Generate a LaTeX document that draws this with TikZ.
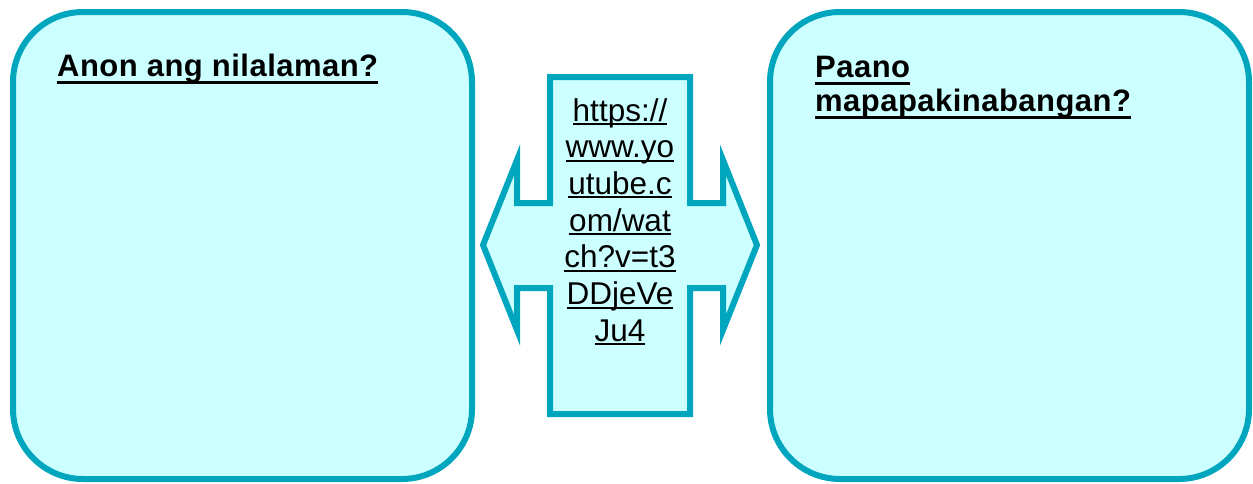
\documentclass[tikz,border=0pt]{standalone}
\usepackage{fontspec}
\setmainfont{Liberation Sans}
\definecolor{rim}{RGB}{0,166,190}
\definecolor{pale}{RGB}{204,255,255}
\newcommand\ulthick[1]{\setbox0\hbox{#1}\rlap{\rule[-7.5pt]{\wd0}{2.5pt}}\box0}
\newcommand\ulthin[1]{\setbox0\hbox{#1}\rlap{\rule[-4pt]{\wd0}{2pt}}\box0}
\tikzset{
  panel/.style={draw=rim, fill=pale, line width=6pt, rounded corners=70pt},
  heading/.style={anchor=base west, inner sep=0pt,
    font=\fontsize{31}{35}\selectfont\bfseries\addfontfeatures{LetterSpace=1.5}},
  linkline/.style={anchor=base, inner sep=0pt, font=\fontsize{31.5}{37}\selectfont}
}
\begin{document}
\begin{tikzpicture}[x=1pt, y=-1pt, line join=miter]
\useasboundingbox (0,0) rectangle (1253,483);
% the two panels
\draw[panel] (13,12) rectangle (472,479);
\draw[panel] (770,12) rectangle (1249,479);

% double arrow with the link
\draw[draw=rim, fill=pale, line width=6pt]
  (550,77)--(690,77)--(690,203)--(723,203)--(723,160)--(757,245)--(723,330)
  --(723,288)--(690,288)--(690,414)--(550,414)--(550,288)--(517,288)
  --(517,330)--(483,245)--(517,160)--(517,203)--(550,203)--cycle;

\node[heading] (what) at (57,76) {\ulthick{Anon ang nilalaman?}};
\node[heading] (how) at (815,77) {\ulthick{Paano}};
\node[heading] (how2) at (815,111) {\ulthick{mapapakinabangan?}};

\foreach \t [count=\i] in {https://, www.yo, utube.c, om/wat, ch?v=t3, DDjeVe, Ju4}
  \node[linkline] (url\i) at (620,{121+36.7*(\i-1)}) {\ulthin{\t}};
\end{tikzpicture}
\end{document}
